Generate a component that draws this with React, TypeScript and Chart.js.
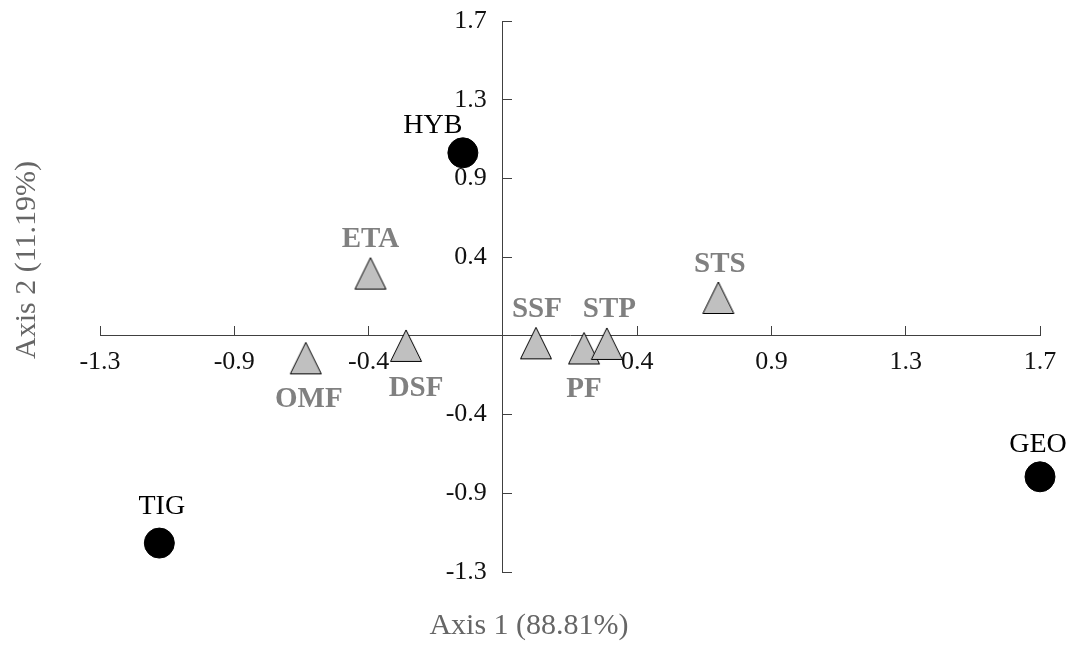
import React, { useEffect, useRef } from 'react';
import { Chart, registerables } from 'chart.js';

Chart.register(...registerables);

// ---- data ----
const AXIS_MIN = -1.3;
const AXIS_MAX = 1.71;
const AXIS_CROSS = -0.01;
const AXIS_TICKS = [-1.3, -0.87, -0.44, 0.42, 0.85, 1.28, 1.71];
const AXIS_TICK_LABELS = ['-1.3', '-0.9', '-0.4', '0.4', '0.9', '1.3', '1.7'];

const X_TITLE = 'Axis 1 (88.81%)';
const Y_TITLE = 'Axis 2 (11.19%)';

const CIRCLE_NAMES = ['HYB', 'TIG', 'GEO'];
const CIRCLE_X = [-0.138, -1.11, 1.71];
const CIRCLE_Y = [0.99, -1.142, -0.78];

const TRIANGLE_NAMES = ['ETA', 'OMF', 'DSF', 'SSF', 'PF', 'STP', 'STS'];
const TRIANGLE_X = [-0.434, -0.641, -0.32, 0.096, 0.25, 0.323, 0.68];
const TRIANGLE_Y = [0.33, -0.133, -0.065, -0.051, -0.079, -0.054, 0.197];

// ---- label placement (styling, px offsets from the marker centre) ----
const CIRCLE_LABEL_OFFSETS = [[-30, -29], [2.5, -38], [-2, -34]];
const TRIANGLE_LABEL_OFFSETS = [[0, -36], [3, 39], [10, 40], [1, -36], [0, 39], [2.5, -36.5], [1.5, -35.5]];

const FONT = "'Liberation Serif', 'Times New Roman', serif";
const TICK_FONT_SIZE = 26;

function makeTriangle(): HTMLCanvasElement {
  const c = document.createElement('canvas');
  c.width = 34;
  c.height = 34;
  const g = c.getContext('2d')!;
  g.beginPath();
  g.moveTo(17, 1);
  g.lineTo(32.5, 32.5);
  g.lineTo(1.5, 32.5);
  g.closePath();
  g.fillStyle = '#c0c0c0';
  g.fill();
  g.lineWidth = 1;
  g.strokeStyle = '#000';
  g.stroke();
  return c;
}

const namePlugin = {
  id: 'pointNames',
  afterDatasetsDraw(chart: any) {
    const ctx = chart.ctx;
    chart.data.datasets.forEach((ds: any, di: number) => {
      const meta = chart.getDatasetMeta(di);
      const st = ds.nameStyle;
      meta.data.forEach((pt: any, i: number) => {
        const [dx, dy] = st.offsets[i];
        ctx.save();
        ctx.font = `${st.bold ? 'bold ' : ''}${st.size}px ${FONT}`;
        ctx.fillStyle = st.color;
        ctx.textAlign = 'center';
        ctx.textBaseline = 'alphabetic';
        ctx.fillText(st.names[i], pt.x + dx, pt.y + dy + st.size * 0.331);
        ctx.restore();
      });
    });
  },
};

// y tick labels drawn left of the centred axis with a gap
const yTickLabelPlugin = {
  id: 'yTickLabels',
  afterDraw(chart: any) {
    const ctx = chart.ctx;
    const ys = chart.scales.y;
    const xs = chart.scales.x;
    const axisX = xs.getPixelForValue(AXIS_CROSS);
    ctx.save();
    ctx.font = `${TICK_FONT_SIZE}px ${FONT}`;
    ctx.fillStyle = '#111';
    ctx.textAlign = 'right';
    ctx.textBaseline = 'middle';
    ys.ticks.forEach((t: any, i: number) => {
      ctx.fillText(AXIS_TICK_LABELS[i], axisX - 16, ys.getPixelForValue(t.value));
    });
    ctx.restore();
  },
};

const titlePlugin = {
  id: 'axisTitles',
  afterDraw(chart: any) {
    const ctx = chart.ctx;
    ctx.save();
    ctx.font = `30px ${FONT}`;
    ctx.fillStyle = '#666';
    ctx.textAlign = 'center';
    ctx.textBaseline = 'middle';
    ctx.fillText(X_TITLE, 529, 626);
    ctx.translate(27, 260);
    ctx.rotate(-Math.PI / 2);
    ctx.fillText(Y_TITLE, 0, 0);
    ctx.restore();
  },
};

function axisOptions(cross: any, padding: number, showLabels: boolean) {
  return {
    type: 'linear',
    min: AXIS_MIN,
    max: AXIS_MAX,
    position: cross,
    afterBuildTicks: (scale: any) => {
      scale.ticks = AXIS_TICKS.map((value) => ({ value }));
    },
    afterFit: (scale: any) => {
      scale.paddingTop = 0;
      scale.paddingBottom = 0;
      scale.paddingLeft = 0;
      scale.paddingRight = 0;
    },
    ticks: {
      display: showLabels,
      autoSkip: false,
      maxRotation: 0,
      padding,
      color: '#111',
      font: { family: FONT, size: TICK_FONT_SIZE },
      callback: (_v: any, i: number) => AXIS_TICK_LABELS[i],
    },
    grid: {
      drawOnChartArea: false,
      drawTicks: true,
      tickLength: -10,
      color: '#404040',
      tickWidth: 1,
    },
    border: { display: true, color: '#404040', width: 1 },
  };
}

export default function App() {
  const ref = useRef<HTMLCanvasElement>(null);

  useEffect(() => {
    if (!ref.current) return;
    const tri = makeTriangle();
    const chart = new Chart(ref.current, {
      type: 'scatter',
      data: {
        datasets: [
          {
            label: 'groups',
            data: TRIANGLE_X.map((x, i) => ({ x, y: TRIANGLE_Y[i] })),
            pointStyle: tri as any,
            pointRadius: 16,
            pointHoverRadius: 16,
            clip: false as any,
            nameStyle: { names: TRIANGLE_NAMES, offsets: TRIANGLE_LABEL_OFFSETS, size: 29, bold: true, color: '#808080' },
          } as any,
          {
            label: 'species',
            data: CIRCLE_X.map((x, i) => ({ x, y: CIRCLE_Y[i] })),
            pointStyle: 'circle',
            pointRadius: 15,
            pointHoverRadius: 15,
            backgroundColor: '#000',
            borderColor: '#000',
            borderWidth: 1,
            clip: false as any,
            nameStyle: { names: CIRCLE_NAMES, offsets: CIRCLE_LABEL_OFFSETS, size: 28, bold: false, color: '#000' },
          } as any,
        ],
      },
      options: {
        animation: false,
        responsive: false,
        devicePixelRatio: 1,
        layout: { padding: { left: 100, right: 35, top: 21, bottom: 76 } },
        plugins: { legend: { display: false }, tooltip: { enabled: false } },
        scales: {
          x: axisOptions({ y: AXIS_CROSS }, 21, true),
          y: axisOptions({ x: AXIS_CROSS }, 0, false),
        } as any,
      },
      plugins: [namePlugin, yTickLabelPlugin, titlePlugin],
    });
    return () => chart.destroy();
  }, []);

  return (
    <div style={{ position: 'absolute', left: 0, top: 0, width: 1075, height: 648, background: '#fff' }}>
      <canvas ref={ref} width={1075} height={648} style={{ display: 'block' }} />
    </div>
  );
}
